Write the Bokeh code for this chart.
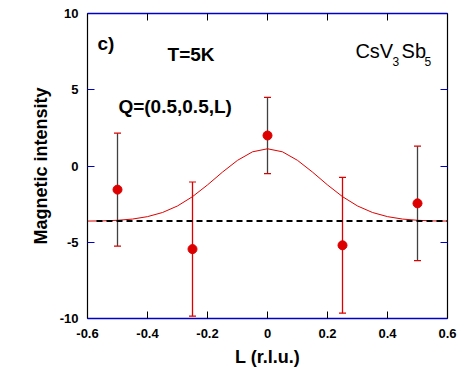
from bokeh.plotting import figure
from bokeh.models import (ColumnDataSource, Whisker, TeeHead, Label, LinearAxis,
                          FixedTicker, NumeralTickFormatter, Range1d)
from bokeh.embed import file_html
from bokeh.resources import INLINE

# ---- data ----
L_values = [-0.5, -0.25, 0.0, 0.25, 0.5]
intensity = [-1.55, -5.45, 2.0, -5.2, -2.45]
err = [3.7, 4.4, 2.5, 4.45, 3.75]
err_color = ["#404040", "#dd0000", "#404040", "#dd0000", "#404040"]

fit_L = [-0.6, -0.55, -0.5, -0.45, -0.4, -0.35, -0.3, -0.25, -0.2, -0.15, -0.1, -0.05, 0.0,
         0.05, 0.1, 0.15, 0.2, 0.25, 0.3, 0.35, 0.4, 0.45, 0.5, 0.55, 0.6]
fit_I = [-3.61, -3.60, -3.56, -3.48, -3.32, -3.05, -2.62, -2.01, -1.24, -0.40, 0.37, 0.93, 1.13,
         0.93, 0.37, -0.40, -1.24, -2.01, -2.62, -3.05, -3.32, -3.48, -3.56, -3.60, -3.61]

baseline_L = [-0.57, 0.6]
baseline_I = [-3.6, -3.6]

x_ticks = [-0.6, -0.4, -0.2, 0.0, 0.2, 0.4, 0.6]
y_ticks = [-10, -5, 0, 5, 10]

RED = "#dd0000"
BLUE = "#0000cc"
FONT = "Liberation Sans"

p = figure(output_backend="svg", toolbar_location=None,
           frame_width=360, frame_height=305,
           min_border_left=87, min_border_right=19, min_border_top=13, min_border_bottom=57,
           x_range=Range1d(-0.6, 0.6), y_range=Range1d(-10, 10),
           background_fill_color="white", border_fill_color="white")
p.outline_line_color = None
p.grid.visible = False

# bottom axis
xa = p.xaxis[0]
xa.ticker = FixedTicker(ticks=x_ticks)
xa.formatter = NumeralTickFormatter(format="0.[0]")
xa.axis_line_color = BLUE
xa.axis_line_width = 1.5
xa.major_tick_line_color = "black"
xa.major_tick_in = 7
xa.major_tick_out = 0
xa.minor_tick_line_color = None
xa.major_label_text_font = FONT
xa.major_label_text_font_style = "bold"
xa.major_label_text_font_size = "13px"
xa.major_label_text_color = "black"
xa.major_label_standoff = 10
xa.axis_label = "L (r.l.u.)"
xa.axis_label_text_font = FONT
xa.axis_label_text_font_style = "bold"
xa.axis_label_text_font_size = "18px"
xa.axis_label_text_color = "black"
xa.axis_label_standoff = 6

# left axis
ya = p.yaxis[0]
ya.ticker = FixedTicker(ticks=y_ticks)
ya.formatter = NumeralTickFormatter(format="0")
ya.axis_line_color = "black"
ya.axis_line_width = 1.2
ya.major_tick_line_color = BLUE
ya.major_tick_in = 7
ya.major_tick_out = 0
ya.minor_tick_line_color = None
ya.major_label_text_font = FONT
ya.major_label_text_font_style = "bold"
ya.major_label_text_font_size = "13px"
ya.major_label_text_color = "black"
ya.major_label_standoff = 9
ya.axis_label = "Magnetic intensity"
ya.axis_label_text_font = FONT
ya.axis_label_text_font_style = "bold"
ya.axis_label_text_font_size = "18px"
ya.axis_label_text_color = "black"
ya.axis_label_standoff = 6

# right axis (no labels)
ra = LinearAxis(ticker=FixedTicker(ticks=y_ticks),
                major_label_overrides={t: "" for t in y_ticks},
                axis_line_color="black", axis_line_width=1.2,
                major_tick_line_color=BLUE, major_tick_in=7, major_tick_out=0,
                minor_tick_line_color=None, major_label_standoff=0)
p.add_layout(ra, "right")

# top axis (no labels)
ta = LinearAxis(ticker=FixedTicker(ticks=x_ticks),
                major_label_overrides={t: "" for t in x_ticks},
                axis_line_color=BLUE, axis_line_width=1.5,
                major_tick_line_color="black", major_tick_in=7, major_tick_out=0,
                minor_tick_line_color=None, major_label_standoff=0)
p.add_layout(ta, "above")

# fit curve and baseline
p.line(fit_L, fit_I, line_color=RED, line_width=1)
p.line(baseline_L, baseline_I, line_color="black", line_width=2, line_dash="6 4")

# error bars
src = ColumnDataSource(dict(x=L_values, y=intensity,
                            lower=[v - e for v, e in zip(intensity, err)],
                            upper=[v + e for v, e in zip(intensity, err)],
                            color=err_color))
wh = Whisker(source=src, base="x", lower="lower", upper="upper",
             line_color="color", line_width=1.3,
             upper_head=TeeHead(size=7, line_color=RED, line_width=1.2),
             lower_head=TeeHead(size=7, line_color=RED, line_width=1.2))
p.add_layout(wh)

p.scatter("x", "y", source=src, size=9, fill_color=RED, line_color=RED)

# annotations
def lab(x, y, text, size, bold=True):
    p.add_layout(Label(x=x, y=y, text=text, text_font=FONT,
                       text_font_size=size, text_font_style="bold" if bold else "normal",
                       text_color="black", text_baseline="alphabetic", text_align="left"))

lab(-0.567, 8.03, "c)", "19px")
lab(-0.333, 7.31, "T=5K", "19px")
lab(-0.497, 3.90, "Q=(0.5,0.5,L)", "19px")
lab(0.293, 7.53, "CsV", "20px", bold=False)
lab(0.417, 6.85, "3", "12px", bold=False)
lab(0.447, 7.53, "Sb", "20px", bold=False)
lab(0.523, 6.85, "5", "12px", bold=False)

open("out.html", "w").write(file_html(p, INLINE))
